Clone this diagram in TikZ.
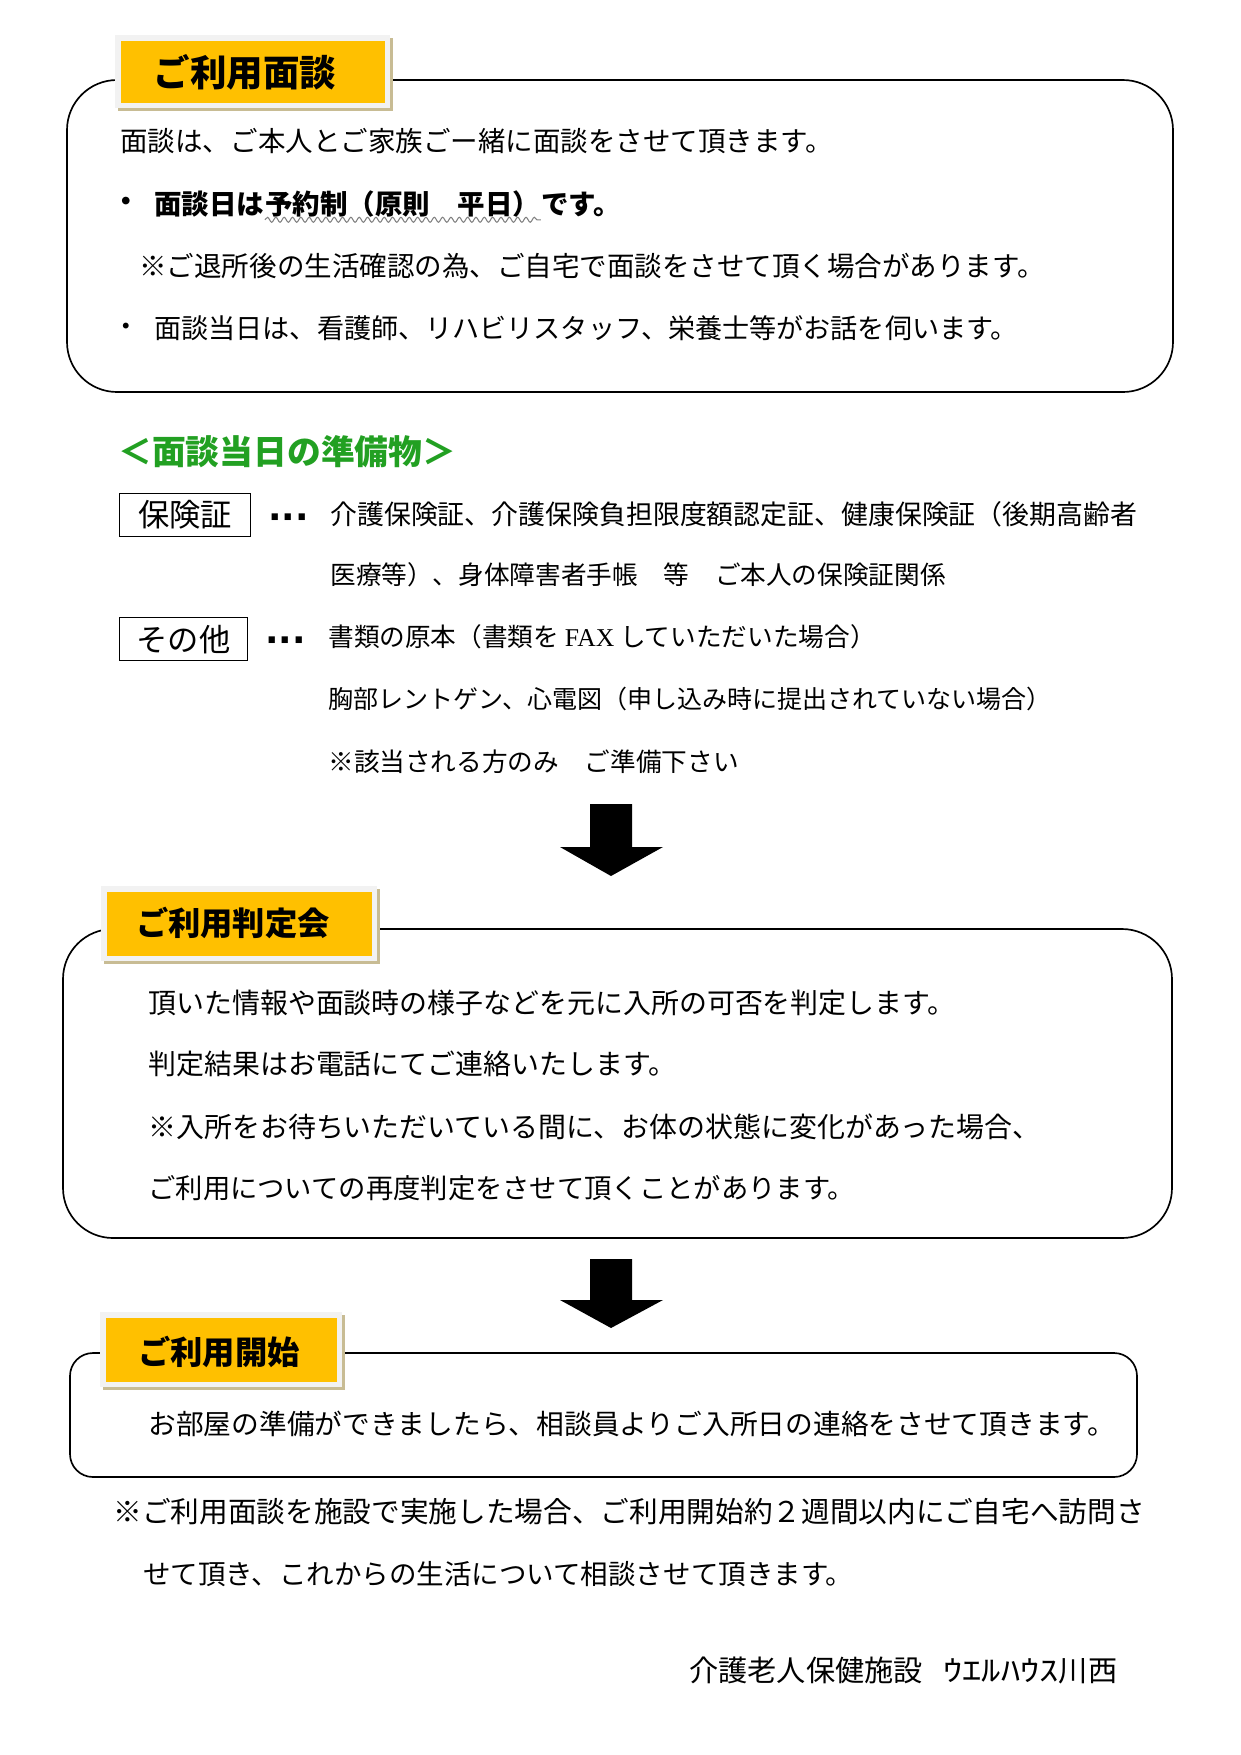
\documentclass[tikz,border=0pt]{standalone}
\usepackage{fontspec}
\setmainfont{Noto Sans CJK JP}
\newfontfamily\serifx{Liberation Serif}
\newfontfamily\dotfont{DejaVu Sans}
\usetikzlibrary{decorations.pathmorphing}
\definecolor{labyellow}{HTML}{FFC000}
\definecolor{labframe}{HTML}{F2F2F2}
\definecolor{labshadow}{HTML}{C8BC94}
\definecolor{headgreen}{HTML}{22A022}
\tikzset{
  body/.style={anchor=west, inner sep=0pt, font=\fontsize{13.2}{15}\selectfont},
  bodyb/.style={anchor=west, inner sep=0pt, font=\fontsize{13.2}{15}\selectfont\bfseries},
  listtext/.style={anchor=west, inner sep=0pt, font=\fontsize{12.3}{15}\selectfont},
  boxtext/.style={anchor=west, inner sep=0pt, font=\fontsize{13.4}{15}\selectfont},
  roundbox/.style={draw=black, line width=0.8pt},
  labtext/.style={inner sep=0pt, font=\fontsize{15.5}{18}\selectfont\bfseries},
  itemlabel/.style={inner sep=0pt, font=\fontsize{15}{18}\selectfont},
  dotsnode/.style={anchor=west, inner sep=0pt, font=\fontsize{17}{18}\selectfont\dotfont\bfseries},
  blockarrow/.style={fill=black, draw=none},
}
\newcommand{\titlelabel}[4]{% x1,y1,x2,y2 (yellow box)
  \fill[labshadow] (#1-3,#2-3) rectangle (#3+8,#4+8);
  \fill[labframe] (#1-6,#2-6) rectangle (#3+5,#4+5);
  \fill[labyellow] (#1,#2) rectangle (#3,#4);
}
\begin{document}
\begin{tikzpicture}[x=0.47968pt,y=-0.47968pt]
\useasboundingbox (0,0) rectangle (1241,1755);
\fill[white] (0,0) rectangle (1241,1755);

% ---------- Box 1 ----------
\draw[roundbox, rounded corners=24pt] (67,80) rectangle (1173,392);
\titlelabel{121}{41}{385}{103}
\node[labtext, font=\fontsize{17.5}{20}\selectfont\bfseries] (t1) at (245,72) {ご利用面談};

\node[body] (a1) at (120,141) {面談は、ご本人とご家族ごー緒に面談をさせて頂きます。};
\node[bodyb] (b2) at (112,204) {・};
\node[bodyb] (a2a) at (154,204) {面談日は};
\node[bodyb, anchor=base west] (a2b) at (a2a.base east) {予約制（原則　平日）};
\node[bodyb, anchor=base west] (a2c) at (a2b.base east) {です。};
\draw[gray, line width=0.5pt, decorate, decoration={snake, amplitude=1.2, segment length=4}]
  ([yshift=-1pt]a2b.south west) -- ([yshift=-1pt]a2b.south east);
\node[body] (a3) at (139,266) {※ご退所後の生活確認の為、ご自宅で面談をさせて頂く場合があります。};
\node[body] (b4) at (112,330) {・};
\node[body, font=\fontsize{13}{15}\selectfont] (a4) at (154,328) {面談当日は、看護師、リハビリスタッフ、栄養士等がお話を伺います。};

% ---------- preparation list ----------
\node[anchor=west, inner sep=0pt, text=headgreen, font=\fontsize{16.2}{19}\selectfont\bfseries] (h1) at (118,452) {＜面談当日の準備物＞};

\node[draw=black, line width=0.6pt, minimum width=131*0.47968pt, minimum height=43*0.47968pt, anchor=north west, inner sep=0pt] (ib1) at (119,493) {};
\node[itemlabel] (k1) at (ib1.center) {保険証};
\node[dotsnode] (d1) at (268,522) {···};
\node[listtext, font=\fontsize{12.9}{15}\selectfont] (c1) at (330,514) {介護保険証、介護保険負担限度額認定証、健康保険証（後期高齢者};
\node[listtext] (c2) at (330,575) {医療等）、身体障害者手帳　等　ご本人の保険証関係};

\node[draw=black, line width=0.6pt, minimum width=128*0.47968pt, minimum height=43*0.47968pt, anchor=north west, inner sep=0pt] (ib2) at (119,617) {};
\node[itemlabel] (k2) at (ib2.center) {その他};
\node[dotsnode] (d2) at (265,645) {···};
\node[listtext] (c3) at (328,637) {書類の原本（書類を {\serifx FAX} していただいた場合）};
\node[listtext, font=\fontsize{12}{15}\selectfont] (c4) at (328,699) {胸部レントゲン、心電図（申し込み時に提出されていない場合）};
\node[listtext] (c5) at (328,762) {※該当される方のみ　ご準備下さい};

% ---------- arrow 1 ----------
\fill[blockarrow] (590,804) -- (632,804) -- (632,847) -- (663,847) -- (611,876) -- (560,847) -- (590,847) -- cycle;

% ---------- Box 2 ----------
\draw[roundbox, rounded corners=24pt] (63,929) rectangle (1172,1238);
\titlelabel{107}{892}{372}{956}
\node[labtext] (t2) at (233,923) {ご利用判定会};

\node[boxtext] (e1) at (148,1003) {頂いた情報や面談時の様子などを元に入所の可否を判定します。};
\node[boxtext] (e2) at (148,1064) {判定結果はお電話にてご連絡いたします。};
\node[boxtext] (e3) at (148,1127) {※入所をお待ちいただいている間に、お体の状態に変化があった場合、};
\node[boxtext, font=\fontsize{13.1}{15}\selectfont] (e4) at (148,1188) {ご利用についての再度判定をさせて頂くことがあります。};

% ---------- arrow 2 ----------
\fill[blockarrow] (590,1259) -- (632,1259) -- (632,1300) -- (663,1300) -- (611,1328) -- (560,1300) -- (590,1300) -- cycle;

% ---------- Box 3 ----------
\draw[roundbox, rounded corners=11pt] (70,1353) rectangle (1137,1477);
\titlelabel{106}{1318}{337}{1382}
\node[labtext] (t3) at (219,1352) {ご利用開始};

\node[boxtext, font=\fontsize{13.3}{15}\selectfont] (f1) at (148,1424) {お部屋の準備ができましたら、相談員よりご入所日の連絡をさせて頂きます。};

% ---------- footnote ----------
\node[body, font=\fontsize{13.75}{16}\selectfont] (g1) at (113,1512) {※ご利用面談を施設で実施した場合、ご利用開始約２週間以内にご自宅へ訪問さ};
\node[body, font=\fontsize{13.2}{16}\selectfont] (g2) at (143,1574) {せて頂き、これからの生活について相談させて頂きます。};

\node[body, font=\fontsize{14}{16}\selectfont] (s1) at (689,1670) {介護老人保健施設\hspace{0.7em}\scalebox{1.32}[1]{ｳｴﾙﾊｳｽ}川西};
\end{tikzpicture}
\end{document}
